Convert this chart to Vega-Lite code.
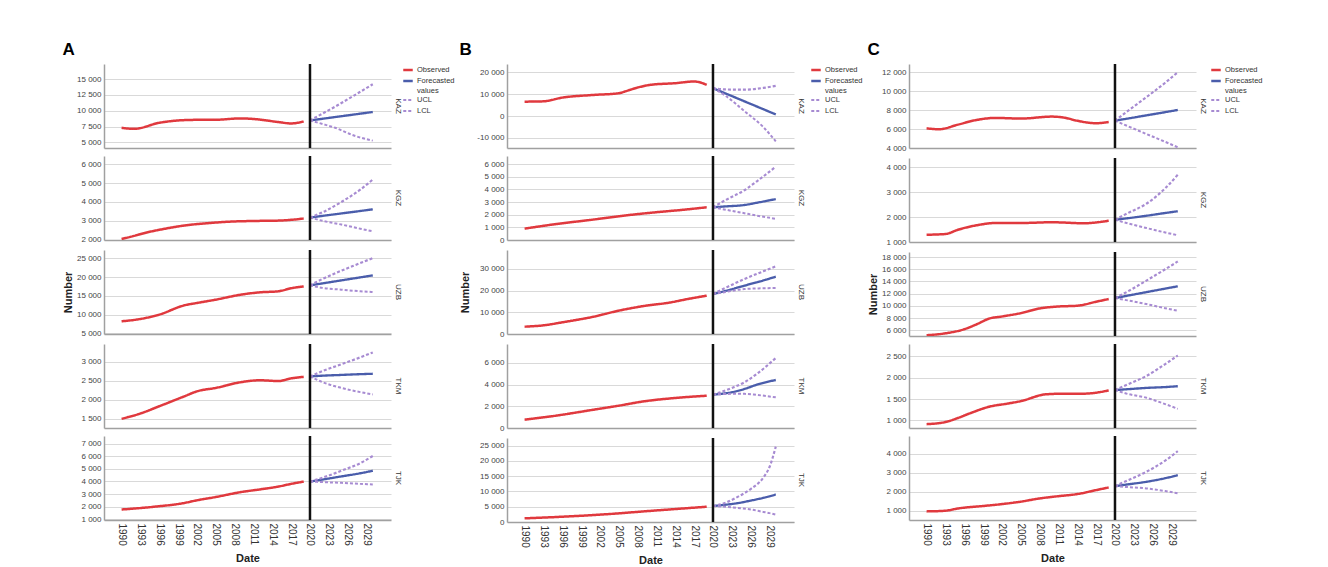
{
"$schema": "https://vega.github.io/schema/vega-lite/v6.json",
"padding": {"left": 62, "top": 40, "right": 5, "bottom": 0},
"background": "white",
"data": {"values": [
{"p":"A","c":"KAZ","t":1990,"Observed":7290},{"p":"A","c":"KAZ","t":1992,"Observed":7130},{"p":"A","c":"KAZ","t":1996,"Observed":8090},{"p":"A","c":"KAZ","t":1999,"Observed":8460},{"p":"A","c":"KAZ","t":2002,"Observed":8560},{"p":"A","c":"KAZ","t":2005,"Observed":8570},{"p":"A","c":"KAZ","t":2009,"Observed":8790},{"p":"A","c":"KAZ","t":2012,"Observed":8600},{"p":"A","c":"KAZ","t":2015,"Observed":8200},{"p":"A","c":"KAZ","t":2017,"Observed":7990},{"p":"A","c":"KAZ","t":2019,"Observed":8300},
{"p":"A","c":"KAZ","t":2020,"Forecasted values":8460,"UCL":8460,"LCL":8460},{"p":"A","c":"KAZ","t":2022,"Forecasted values":8730,"UCL":9550,"LCL":7900},{"p":"A","c":"KAZ","t":2024,"Forecasted values":9000,"UCL":10650,"LCL":7300},{"p":"A","c":"KAZ","t":2027,"Forecasted values":9400,"UCL":12400,"LCL":6070},{"p":"A","c":"KAZ","t":2030,"Forecasted values":9800,"UCL":14200,"LCL":5270},
{"p":"A","c":"KGZ","t":1990,"Observed":2030},{"p":"A","c":"KGZ","t":1992,"Observed":2200},{"p":"A","c":"KGZ","t":1994,"Observed":2380},{"p":"A","c":"KGZ","t":1996,"Observed":2520},{"p":"A","c":"KGZ","t":1999,"Observed":2700},{"p":"A","c":"KGZ","t":2001,"Observed":2790},{"p":"A","c":"KGZ","t":2004,"Observed":2880},{"p":"A","c":"KGZ","t":2007,"Observed":2950},{"p":"A","c":"KGZ","t":2011,"Observed":2990},{"p":"A","c":"KGZ","t":2015,"Observed":3010},{"p":"A","c":"KGZ","t":2017,"Observed":3050},{"p":"A","c":"KGZ","t":2019,"Observed":3120},
{"p":"A","c":"KGZ","t":2020,"Forecasted values":3170,"UCL":3170,"LCL":3170},{"p":"A","c":"KGZ","t":2022,"Forecasted values":3260,"UCL":3450,"LCL":3000},{"p":"A","c":"KGZ","t":2025,"Forecasted values":3390,"UCL":4000,"LCL":2800},{"p":"A","c":"KGZ","t":2028,"Forecasted values":3520,"UCL":4650,"LCL":2580},{"p":"A","c":"KGZ","t":2030,"Forecasted values":3610,"UCL":5190,"LCL":2440},
{"p":"A","c":"UZB","t":1990,"Observed":8190},{"p":"A","c":"UZB","t":1993,"Observed":8810},{"p":"A","c":"UZB","t":1996,"Observed":9970},{"p":"A","c":"UZB","t":2000,"Observed":12450},{"p":"A","c":"UZB","t":2002,"Observed":13070},{"p":"A","c":"UZB","t":2005,"Observed":13960},{"p":"A","c":"UZB","t":2009,"Observed":15290},{"p":"A","c":"UZB","t":2012,"Observed":15910},{"p":"A","c":"UZB","t":2015,"Observed":16200},{"p":"A","c":"UZB","t":2017,"Observed":17000},{"p":"A","c":"UZB","t":2019,"Observed":17500},
{"p":"A","c":"UZB","t":2020,"Forecasted values":17770,"UCL":17770,"LCL":17770},{"p":"A","c":"UZB","t":2022,"Forecasted values":18300,"UCL":19500,"LCL":17100},{"p":"A","c":"UZB","t":2025,"Forecasted values":19100,"UCL":21680,"LCL":16620},{"p":"A","c":"UZB","t":2028,"Forecasted values":19900,"UCL":23700,"LCL":16200},{"p":"A","c":"UZB","t":2030,"Forecasted values":20430,"UCL":25050,"LCL":16000},
{"p":"A","c":"TKM","t":1990,"Observed":1500},{"p":"A","c":"TKM","t":1993,"Observed":1640},{"p":"A","c":"TKM","t":1996,"Observed":1830},{"p":"A","c":"TKM","t":2000,"Observed":2090},{"p":"A","c":"TKM","t":2002,"Observed":2220},{"p":"A","c":"TKM","t":2005,"Observed":2310},{"p":"A","c":"TKM","t":2009,"Observed":2460},{"p":"A","c":"TKM","t":2012,"Observed":2510},{"p":"A","c":"TKM","t":2015,"Observed":2490},{"p":"A","c":"TKM","t":2017,"Observed":2560},{"p":"A","c":"TKM","t":2019,"Observed":2600},
{"p":"A","c":"TKM","t":2020,"Forecasted values":2610,"UCL":2610,"LCL":2610},{"p":"A","c":"TKM","t":2022,"Forecasted values":2630,"UCL":2750,"LCL":2460},{"p":"A","c":"TKM","t":2025,"Forecasted values":2650,"UCL":2930,"LCL":2310},{"p":"A","c":"TKM","t":2028,"Forecasted values":2670,"UCL":3110,"LCL":2200},{"p":"A","c":"TKM","t":2030,"Forecasted values":2680,"UCL":3240,"LCL":2140},
{"p":"A","c":"TJK","t":1990,"Observed":1780},{"p":"A","c":"TJK","t":1995,"Observed":1990},{"p":"A","c":"TJK","t":2000,"Observed":2300},{"p":"A","c":"TJK","t":2002,"Observed":2510},{"p":"A","c":"TJK","t":2005,"Observed":2770},{"p":"A","c":"TJK","t":2009,"Observed":3160},{"p":"A","c":"TJK","t":2012,"Observed":3370},{"p":"A","c":"TJK","t":2015,"Observed":3600},{"p":"A","c":"TJK","t":2017,"Observed":3810},{"p":"A","c":"TJK","t":2019,"Observed":3990},
{"p":"A","c":"TJK","t":2020,"Forecasted values":3990,"UCL":3990,"LCL":3990},{"p":"A","c":"TJK","t":2022,"Forecasted values":4150,"UCL":4300,"LCL":3950},{"p":"A","c":"TJK","t":2025,"Forecasted values":4400,"UCL":4850,"LCL":3890},{"p":"A","c":"TJK","t":2028,"Forecasted values":4650,"UCL":5450,"LCL":3810},{"p":"A","c":"TJK","t":2030,"Forecasted values":4850,"UCL":6020,"LCL":3760},
{"p":"B","c":"KAZ","t":1990,"Observed":6610},{"p":"B","c":"KAZ","t":1993,"Observed":6770},{"p":"B","c":"KAZ","t":1996,"Observed":8460},{"p":"B","c":"KAZ","t":2001,"Observed":9690},{"p":"B","c":"KAZ","t":2005,"Observed":10460},{"p":"B","c":"KAZ","t":2006,"Observed":11300},{"p":"B","c":"KAZ","t":2008,"Observed":13070},{"p":"B","c":"KAZ","t":2010,"Observed":14300},{"p":"B","c":"KAZ","t":2014,"Observed":15070},{"p":"B","c":"KAZ","t":2017,"Observed":15840},{"p":"B","c":"KAZ","t":2018,"Observed":15380},{"p":"B","c":"KAZ","t":2019,"Observed":14300},
{"p":"B","c":"KAZ","t":2020,"Forecasted values":12770,"UCL":12770,"LCL":12770},{"p":"B","c":"KAZ","t":2022,"Forecasted values":10370,"UCL":12200,"LCL":9300},{"p":"B","c":"KAZ","t":2025,"Forecasted values":6770,"UCL":12100,"LCL":2300},{"p":"B","c":"KAZ","t":2028,"Forecasted values":3170,"UCL":12900,"LCL":-5000},{"p":"B","c":"KAZ","t":2030,"Forecasted values":770,"UCL":13840,"LCL":-11540},
{"p":"B","c":"KGZ","t":1990,"Observed":900},{"p":"B","c":"KGZ","t":1995,"Observed":1260},{"p":"B","c":"KGZ","t":2001,"Observed":1620},{"p":"B","c":"KGZ","t":2006,"Observed":1940},{"p":"B","c":"KGZ","t":2011,"Observed":2200},{"p":"B","c":"KGZ","t":2015,"Observed":2380},{"p":"B","c":"KGZ","t":2019,"Observed":2590},
{"p":"B","c":"KGZ","t":2020,"Forecasted values":2590,"UCL":2590,"LCL":2590},{"p":"B","c":"KGZ","t":2022,"Forecasted values":2660,"UCL":3160,"LCL":2400},{"p":"B","c":"KGZ","t":2025,"Forecasted values":2770,"UCL":3940,"LCL":2120},{"p":"B","c":"KGZ","t":2027,"Forecasted values":2950,"UCL":4650,"LCL":1930},{"p":"B","c":"KGZ","t":2030,"Forecasted values":3240,"UCL":5810,"LCL":1680},
{"p":"B","c":"UZB","t":1990,"Observed":3380},{"p":"B","c":"UZB","t":1993,"Observed":4000},{"p":"B","c":"UZB","t":1996,"Observed":5380},{"p":"B","c":"UZB","t":2001,"Observed":8000},{"p":"B","c":"UZB","t":2005,"Observed":10770},{"p":"B","c":"UZB","t":2009,"Observed":12920},{"p":"B","c":"UZB","t":2013,"Observed":14460},{"p":"B","c":"UZB","t":2016,"Observed":16150},{"p":"B","c":"UZB","t":2019,"Observed":17690},
{"p":"B","c":"UZB","t":2020,"Forecasted values":18460,"UCL":18460,"LCL":18460},{"p":"B","c":"UZB","t":2022,"Forecasted values":19900,"UCL":21300,"LCL":19400},{"p":"B","c":"UZB","t":2025,"Forecasted values":22300,"UCL":25380,"LCL":20760},{"p":"B","c":"UZB","t":2028,"Forecasted values":24700,"UCL":28900,"LCL":21100},{"p":"B","c":"UZB","t":2030,"Forecasted values":26450,"UCL":31220,"LCL":21220},
{"p":"B","c":"TKM","t":1990,"Observed":770},{"p":"B","c":"TKM","t":1995,"Observed":1140},{"p":"B","c":"TKM","t":2001,"Observed":1690},{"p":"B","c":"TKM","t":2005,"Observed":2060},{"p":"B","c":"TKM","t":2009,"Observed":2460},{"p":"B","c":"TKM","t":2014,"Observed":2770},{"p":"B","c":"TKM","t":2019,"Observed":2980},
{"p":"B","c":"TKM","t":2020,"Forecasted values":3080,"UCL":3080,"LCL":3080},{"p":"B","c":"TKM","t":2023,"Forecasted values":3300,"UCL":3690,"LCL":3150},{"p":"B","c":"TKM","t":2025,"Forecasted values":3600,"UCL":4215,"LCL":3150},{"p":"B","c":"TKM","t":2027,"Forecasted values":4000,"UCL":5000,"LCL":3050},{"p":"B","c":"TKM","t":2030,"Forecasted values":4430,"UCL":6460,"LCL":2830},
{"p":"B","c":"TJK","t":1990,"Observed":1200},{"p":"B","c":"TJK","t":1995,"Observed":1630},{"p":"B","c":"TJK","t":2001,"Observed":2280},{"p":"B","c":"TJK","t":2005,"Observed":2830},{"p":"B","c":"TJK","t":2009,"Observed":3480},{"p":"B","c":"TJK","t":2014,"Observed":4240},{"p":"B","c":"TJK","t":2019,"Observed":5000},
{"p":"B","c":"TJK","t":2020,"Forecasted values":5220,"UCL":5220,"LCL":5220},{"p":"B","c":"TJK","t":2022,"Forecasted values":5650,"UCL":6300,"LCL":5000},{"p":"B","c":"TJK","t":2024,"Forecasted values":6200,"UCL":8300,"LCL":4600},{"p":"B","c":"TJK","t":2026,"Forecasted values":7000,"UCL":10800,"LCL":4100},{"p":"B","c":"TJK","t":2028,"Forecasted values":7900,"UCL":14500,"LCL":3300},{"p":"B","c":"TJK","t":2029,"Forecasted values":8400,"UCL":18000,"LCL":2900},{"p":"B","c":"TJK","t":2030,"Forecasted values":9020,"UCL":24670,"LCL":2390},
{"p":"C","c":"KAZ","t":1990,"Observed":6080},{"p":"C","c":"KAZ","t":1992,"Observed":5980},{"p":"C","c":"KAZ","t":1995,"Observed":6470},{"p":"C","c":"KAZ","t":1998,"Observed":6970},{"p":"C","c":"KAZ","t":2001,"Observed":7180},{"p":"C","c":"KAZ","t":2005,"Observed":7110},{"p":"C","c":"KAZ","t":2010,"Observed":7320},{"p":"C","c":"KAZ","t":2012,"Observed":7200},{"p":"C","c":"KAZ","t":2014,"Observed":6880},{"p":"C","c":"KAZ","t":2017,"Observed":6620},{"p":"C","c":"KAZ","t":2019,"Observed":6750},
{"p":"C","c":"KAZ","t":2020,"Forecasted values":6890,"UCL":6890,"LCL":6890},{"p":"C","c":"KAZ","t":2022,"Forecasted values":7110,"UCL":7900,"LCL":6320},{"p":"C","c":"KAZ","t":2025,"Forecasted values":7450,"UCL":9370,"LCL":5480},{"p":"C","c":"KAZ","t":2028,"Forecasted values":7790,"UCL":10900,"LCL":4650},{"p":"C","c":"KAZ","t":2030,"Forecasted values":8020,"UCL":12010,"LCL":4070},
{"p":"C","c":"KGZ","t":1990,"Observed":1290},{"p":"C","c":"KGZ","t":1993,"Observed":1320},{"p":"C","c":"KGZ","t":1995,"Observed":1490},{"p":"C","c":"KGZ","t":1998,"Observed":1670},{"p":"C","c":"KGZ","t":2001,"Observed":1760},{"p":"C","c":"KGZ","t":2005,"Observed":1760},{"p":"C","c":"KGZ","t":2010,"Observed":1790},{"p":"C","c":"KGZ","t":2015,"Observed":1750},{"p":"C","c":"KGZ","t":2019,"Observed":1850},
{"p":"C","c":"KGZ","t":2020,"Forecasted values":1890,"UCL":1890,"LCL":1890},{"p":"C","c":"KGZ","t":2022,"Forecasted values":1950,"UCL":2150,"LCL":1750},{"p":"C","c":"KGZ","t":2025,"Forecasted values":2050,"UCL":2530,"LCL":1560},{"p":"C","c":"KGZ","t":2028,"Forecasted values":2160,"UCL":3150,"LCL":1380},{"p":"C","c":"KGZ","t":2030,"Forecasted values":2230,"UCL":3690,"LCL":1270},
{"p":"C","c":"UZB","t":1990,"Observed":5180},{"p":"C","c":"UZB","t":1993,"Observed":5500},{"p":"C","c":"UZB","t":1996,"Observed":6170},{"p":"C","c":"UZB","t":1998,"Observed":6990},{"p":"C","c":"UZB","t":2000,"Observed":7930},{"p":"C","c":"UZB","t":2002,"Observed":8260},{"p":"C","c":"UZB","t":2005,"Observed":8810},{"p":"C","c":"UZB","t":2008,"Observed":9580},{"p":"C","c":"UZB","t":2011,"Observed":9900},{"p":"C","c":"UZB","t":2014,"Observed":10020},{"p":"C","c":"UZB","t":2017,"Observed":10680},{"p":"C","c":"UZB","t":2019,"Observed":11120},
{"p":"C","c":"UZB","t":2020,"Forecasted values":11280,"UCL":11280,"LCL":11280},{"p":"C","c":"UZB","t":2022,"Forecasted values":11670,"UCL":12350,"LCL":10900},{"p":"C","c":"UZB","t":2025,"Forecasted values":12250,"UCL":14140,"LCL":10290},{"p":"C","c":"UZB","t":2028,"Forecasted values":12830,"UCL":16000,"LCL":9620},{"p":"C","c":"UZB","t":2030,"Forecasted values":13210,"UCL":17280,"LCL":9190},
{"p":"C","c":"TKM","t":1990,"Observed":910},{"p":"C","c":"TKM","t":1993,"Observed":960},{"p":"C","c":"TKM","t":1995,"Observed":1055},{"p":"C","c":"TKM","t":1997,"Observed":1170},{"p":"C","c":"TKM","t":2000,"Observed":1320},{"p":"C","c":"TKM","t":2003,"Observed":1395},{"p":"C","c":"TKM","t":2005,"Observed":1450},{"p":"C","c":"TKM","t":2009,"Observed":1610},{"p":"C","c":"TKM","t":2012,"Observed":1625},{"p":"C","c":"TKM","t":2015,"Observed":1625},{"p":"C","c":"TKM","t":2019,"Observed":1700},
{"p":"C","c":"TKM","t":2020,"Forecasted values":1710,"UCL":1710,"LCL":1710},{"p":"C","c":"TKM","t":2022,"Forecasted values":1730,"UCL":1840,"LCL":1620},{"p":"C","c":"TKM","t":2025,"Forecasted values":1760,"UCL":2040,"LCL":1530},{"p":"C","c":"TKM","t":2028,"Forecasted values":1780,"UCL":2320,"LCL":1380},{"p":"C","c":"TKM","t":2030,"Forecasted values":1800,"UCL":2520,"LCL":1270},
{"p":"C","c":"TJK","t":1990,"Observed":965},{"p":"C","c":"TJK","t":1993,"Observed":1000},{"p":"C","c":"TJK","t":1995,"Observed":1120},{"p":"C","c":"TJK","t":1999,"Observed":1250},{"p":"C","c":"TJK","t":2002,"Observed":1350},{"p":"C","c":"TJK","t":2005,"Observed":1480},{"p":"C","c":"TJK","t":2008,"Observed":1650},{"p":"C","c":"TJK","t":2011,"Observed":1770},{"p":"C","c":"TJK","t":2014,"Observed":1880},{"p":"C","c":"TJK","t":2017,"Observed":2090},{"p":"C","c":"TJK","t":2019,"Observed":2230},
{"p":"C","c":"TJK","t":2020,"Forecasted values":2300,"UCL":2300,"LCL":2300},{"p":"C","c":"TJK","t":2022,"Forecasted values":2390,"UCL":2600,"LCL":2250},{"p":"C","c":"TJK","t":2025,"Forecasted values":2530,"UCL":3060,"LCL":2180},{"p":"C","c":"TJK","t":2028,"Forecasted values":2720,"UCL":3650,"LCL":2040},{"p":"C","c":"TJK","t":2030,"Forecasted values":2880,"UCL":4150,"LCL":1920}
]},
"transform": [{"fold": ["Observed", "Forecasted values", "UCL", "LCL"], "as": ["key", "v"]}, {"filter": "isValid(datum.v)"}],
"spacing": 4,
"resolve": {"scale": {"color": "independent", "strokeDash": "independent", "strokeWidth": "independent"}, "legend": {"color": "independent", "strokeDash": "independent"}},
"hconcat": [
{"title": {"text": "A", "anchor": "start", "fontSize": 17, "fontWeight": "bold", "color": "#000", "offset": 4},
 "spacing": 4,
 "vconcat": [
  {"width": 287, "height": 84, "title": {"text": "KAZ", "orient": "right", "fontSize": 8, "fontWeight": "normal", "color": "#333", "offset": 3},
   "transform": [{"filter": "datum.p == 'A' && datum.c == 'KAZ'"}],
   "layer": [
    {"mark": {"type": "line", "interpolate": "monotone", "clip": true},
     "encoding": {
      "x": {"field": "t", "type": "quantitative", "scale": {"domain": [1987.2, 2032.9], "nice": false, "zero": false}, "axis": {"labels": false, "title": null}},
      "y": {"field": "v", "type": "quantitative", "scale": {"domain": [4100, 17400], "nice": false, "zero": false}, "axis": {"values": [5000, 7500, 10000, 12500, 15000], "title": null}},
      "color": {"field": "key", "type": "nominal", "scale": {"domain": ["Observed", "Forecasted values", "UCL", "LCL"], "range": ["#e0393e", "#4a5dab", "#a78bd2", "#a78bd2"]}, "legend": {"title": null, "offset": 0, "labelExpr": "datum.label == 'Forecasted values' ? ['Forecasted', 'values'] : datum.label"}},
      "strokeDash": {"field": "key", "type": "nominal", "scale": {"domain": ["Observed", "Forecasted values", "UCL", "LCL"], "range": [[1, 0], [1, 0], [3, 2], [3, 2]]}, "legend": {"title": null, "offset": 0, "labelExpr": "datum.label == 'Forecasted values' ? ['Forecasted', 'values'] : datum.label"}},
      "strokeWidth": {"field": "key", "type": "nominal", "scale": {"domain": ["Observed", "Forecasted values", "UCL", "LCL"], "range": [2.5, 2, 1.5, 1.5]}, "legend": null}
     }},
    {"transform": [{"filter": "datum.key == 'Forecasted values' && datum.t == 2020"}], "mark": {"type": "rule", "color": "#111", "strokeWidth": 2.5}, "encoding": {"x": {"field": "t", "type": "quantitative"}}}
   ]},
  {"width": 287, "height": 84, "title": {"text": "KGZ", "orient": "right", "fontSize": 8, "fontWeight": "normal", "color": "#333", "offset": 3},
   "transform": [{"filter": "datum.p == 'A' && datum.c == 'KGZ'"}],
   "layer": [
    {"mark": {"type": "line", "interpolate": "monotone", "clip": true},
     "encoding": {
      "x": {"field": "t", "type": "quantitative", "scale": {"domain": [1987.2, 2032.9], "nice": false, "zero": false}, "axis": {"labels": false, "title": null}},
      "y": {"field": "v", "type": "quantitative", "scale": {"domain": [1980, 6440], "nice": false, "zero": false}, "axis": {"values": [2000, 3000, 4000, 5000, 6000], "title": null}},
      "color": {"field": "key", "type": "nominal", "scale": {"domain": ["Observed", "Forecasted values", "UCL", "LCL"], "range": ["#e0393e", "#4a5dab", "#a78bd2", "#a78bd2"]}, "legend": {"title": null, "offset": 0, "labelExpr": "datum.label == 'Forecasted values' ? ['Forecasted', 'values'] : datum.label"}},
      "strokeDash": {"field": "key", "type": "nominal", "scale": {"domain": ["Observed", "Forecasted values", "UCL", "LCL"], "range": [[1, 0], [1, 0], [3, 2], [3, 2]]}, "legend": {"title": null, "offset": 0, "labelExpr": "datum.label == 'Forecasted values' ? ['Forecasted', 'values'] : datum.label"}},
      "strokeWidth": {"field": "key", "type": "nominal", "scale": {"domain": ["Observed", "Forecasted values", "UCL", "LCL"], "range": [2.5, 2, 1.5, 1.5]}, "legend": null}
     }},
    {"transform": [{"filter": "datum.key == 'Forecasted values' && datum.t == 2020"}], "mark": {"type": "rule", "color": "#111", "strokeWidth": 2.5}, "encoding": {"x": {"field": "t", "type": "quantitative"}}}
   ]},
  {"width": 287, "height": 84, "title": {"text": "UZB", "orient": "right", "fontSize": 8, "fontWeight": "normal", "color": "#333", "offset": 3},
   "transform": [{"filter": "datum.p == 'A' && datum.c == 'UZB'"}],
   "layer": [
    {"mark": {"type": "line", "interpolate": "monotone", "clip": true},
     "encoding": {
      "x": {"field": "t", "type": "quantitative", "scale": {"domain": [1987.2, 2032.9], "nice": false, "zero": false}, "axis": {"labels": false, "title": null}},
      "y": {"field": "v", "type": "quantitative", "scale": {"domain": [4800, 27200], "nice": false, "zero": false}, "axis": {"values": [5000, 10000, 15000, 20000, 25000], "title": "Number"}},
      "color": {"field": "key", "type": "nominal", "scale": {"domain": ["Observed", "Forecasted values", "UCL", "LCL"], "range": ["#e0393e", "#4a5dab", "#a78bd2", "#a78bd2"]}, "legend": {"title": null, "offset": 0, "labelExpr": "datum.label == 'Forecasted values' ? ['Forecasted', 'values'] : datum.label"}},
      "strokeDash": {"field": "key", "type": "nominal", "scale": {"domain": ["Observed", "Forecasted values", "UCL", "LCL"], "range": [[1, 0], [1, 0], [3, 2], [3, 2]]}, "legend": {"title": null, "offset": 0, "labelExpr": "datum.label == 'Forecasted values' ? ['Forecasted', 'values'] : datum.label"}},
      "strokeWidth": {"field": "key", "type": "nominal", "scale": {"domain": ["Observed", "Forecasted values", "UCL", "LCL"], "range": [2.5, 2, 1.5, 1.5]}, "legend": null}
     }},
    {"transform": [{"filter": "datum.key == 'Forecasted values' && datum.t == 2020"}], "mark": {"type": "rule", "color": "#111", "strokeWidth": 2.5}, "encoding": {"x": {"field": "t", "type": "quantitative"}}}
   ]},
  {"width": 287, "height": 84, "title": {"text": "TKM", "orient": "right", "fontSize": 8, "fontWeight": "normal", "color": "#333", "offset": 3},
   "transform": [{"filter": "datum.p == 'A' && datum.c == 'TKM'"}],
   "layer": [
    {"mark": {"type": "line", "interpolate": "monotone", "clip": true},
     "encoding": {
      "x": {"field": "t", "type": "quantitative", "scale": {"domain": [1987.2, 2032.9], "nice": false, "zero": false}, "axis": {"labels": false, "title": null}},
      "y": {"field": "v", "type": "quantitative", "scale": {"domain": [1260, 3460], "nice": false, "zero": false}, "axis": {"values": [1500, 2000, 2500, 3000], "title": null}},
      "color": {"field": "key", "type": "nominal", "scale": {"domain": ["Observed", "Forecasted values", "UCL", "LCL"], "range": ["#e0393e", "#4a5dab", "#a78bd2", "#a78bd2"]}, "legend": {"title": null, "offset": 0, "labelExpr": "datum.label == 'Forecasted values' ? ['Forecasted', 'values'] : datum.label"}},
      "strokeDash": {"field": "key", "type": "nominal", "scale": {"domain": ["Observed", "Forecasted values", "UCL", "LCL"], "range": [[1, 0], [1, 0], [3, 2], [3, 2]]}, "legend": {"title": null, "offset": 0, "labelExpr": "datum.label == 'Forecasted values' ? ['Forecasted', 'values'] : datum.label"}},
      "strokeWidth": {"field": "key", "type": "nominal", "scale": {"domain": ["Observed", "Forecasted values", "UCL", "LCL"], "range": [2.5, 2, 1.5, 1.5]}, "legend": null}
     }},
    {"transform": [{"filter": "datum.key == 'Forecasted values' && datum.t == 2020"}], "mark": {"type": "rule", "color": "#111", "strokeWidth": 2.5}, "encoding": {"x": {"field": "t", "type": "quantitative"}}}
   ]},
  {"width": 287, "height": 84, "title": {"text": "TJK", "orient": "right", "fontSize": 8, "fontWeight": "normal", "color": "#333", "offset": 3},
   "transform": [{"filter": "datum.p == 'A' && datum.c == 'TJK'"}],
   "layer": [
    {"mark": {"type": "line", "interpolate": "monotone", "clip": true},
     "encoding": {
      "x": {"field": "t", "type": "quantitative", "scale": {"domain": [1987.2, 2032.9], "nice": false, "zero": false}, "axis": {"values": [1990, 1993, 1996, 1999, 2002, 2005, 2008, 2011, 2014, 2017, 2020, 2023, 2026, 2029], "labelOverlap": false, "labelBound": false, "title": "Date", "titlePadding": 7}},
      "y": {"field": "v", "type": "quantitative", "scale": {"domain": [950, 7600], "nice": false, "zero": false}, "axis": {"values": [1000, 2000, 3000, 4000, 5000, 6000, 7000], "title": null}},
      "color": {"field": "key", "type": "nominal", "scale": {"domain": ["Observed", "Forecasted values", "UCL", "LCL"], "range": ["#e0393e", "#4a5dab", "#a78bd2", "#a78bd2"]}, "legend": {"title": null, "offset": 0, "labelExpr": "datum.label == 'Forecasted values' ? ['Forecasted', 'values'] : datum.label"}},
      "strokeDash": {"field": "key", "type": "nominal", "scale": {"domain": ["Observed", "Forecasted values", "UCL", "LCL"], "range": [[1, 0], [1, 0], [3, 2], [3, 2]]}, "legend": {"title": null, "offset": 0, "labelExpr": "datum.label == 'Forecasted values' ? ['Forecasted', 'values'] : datum.label"}},
      "strokeWidth": {"field": "key", "type": "nominal", "scale": {"domain": ["Observed", "Forecasted values", "UCL", "LCL"], "range": [2.5, 2, 1.5, 1.5]}, "legend": null}
     }},
    {"transform": [{"filter": "datum.key == 'Forecasted values' && datum.t == 2020"}], "mark": {"type": "rule", "color": "#111", "strokeWidth": 2.5}, "encoding": {"x": {"field": "t", "type": "quantitative", "axis": {"values": [1990, 1993, 1996, 1999, 2002, 2005, 2008, 2011, 2014, 2017, 2020, 2023, 2026, 2029], "labelOverlap": false, "labelBound": false, "title": "Date", "titlePadding": 7}}}}
   ]}
 ]},
{"title": {"text": "B", "anchor": "start", "fontSize": 17, "fontWeight": "bold", "color": "#000", "offset": 4},
 "spacing": 4,
 "vconcat": [
  {"width": 287, "height": 84, "title": {"text": "KAZ", "orient": "right", "fontSize": 8, "fontWeight": "normal", "color": "#333", "offset": 3},
   "transform": [{"filter": "datum.p == 'B' && datum.c == 'KAZ'"}],
   "layer": [
    {"mark": {"type": "line", "interpolate": "monotone", "clip": true},
     "encoding": {
      "x": {"field": "t", "type": "quantitative", "scale": {"domain": [1987.2, 2032.9], "nice": false, "zero": false}, "axis": {"labels": false, "title": null}},
      "y": {"field": "v", "type": "quantitative", "scale": {"domain": [-14600, 23850], "nice": false, "zero": false}, "axis": {"values": [-10000, 0, 10000, 20000], "title": null}},
      "color": {"field": "key", "type": "nominal", "scale": {"domain": ["Observed", "Forecasted values", "UCL", "LCL"], "range": ["#e0393e", "#4a5dab", "#a78bd2", "#a78bd2"]}, "legend": {"title": null, "offset": 5, "labelExpr": "datum.label == 'Forecasted values' ? ['Forecasted', 'values'] : datum.label"}},
      "strokeDash": {"field": "key", "type": "nominal", "scale": {"domain": ["Observed", "Forecasted values", "UCL", "LCL"], "range": [[1, 0], [1, 0], [3, 2], [3, 2]]}, "legend": {"title": null, "offset": 5, "labelExpr": "datum.label == 'Forecasted values' ? ['Forecasted', 'values'] : datum.label"}},
      "strokeWidth": {"field": "key", "type": "nominal", "scale": {"domain": ["Observed", "Forecasted values", "UCL", "LCL"], "range": [2.5, 2, 1.5, 1.5]}, "legend": null}
     }},
    {"transform": [{"filter": "datum.key == 'Forecasted values' && datum.t == 2020"}], "mark": {"type": "rule", "color": "#111", "strokeWidth": 2.5}, "encoding": {"x": {"field": "t", "type": "quantitative"}}}
   ]},
  {"width": 287, "height": 84, "title": {"text": "KGZ", "orient": "right", "fontSize": 8, "fontWeight": "normal", "color": "#333", "offset": 3},
   "transform": [{"filter": "datum.p == 'B' && datum.c == 'KGZ'"}],
   "layer": [
    {"mark": {"type": "line", "interpolate": "monotone", "clip": true},
     "encoding": {
      "x": {"field": "t", "type": "quantitative", "scale": {"domain": [1987.2, 2032.9], "nice": false, "zero": false}, "axis": {"labels": false, "title": null}},
      "y": {"field": "v", "type": "quantitative", "scale": {"domain": [0, 6650], "nice": false, "zero": false}, "axis": {"values": [0, 1000, 2000, 3000, 4000, 5000, 6000], "title": null}},
      "color": {"field": "key", "type": "nominal", "scale": {"domain": ["Observed", "Forecasted values", "UCL", "LCL"], "range": ["#e0393e", "#4a5dab", "#a78bd2", "#a78bd2"]}, "legend": {"title": null, "offset": 5, "labelExpr": "datum.label == 'Forecasted values' ? ['Forecasted', 'values'] : datum.label"}},
      "strokeDash": {"field": "key", "type": "nominal", "scale": {"domain": ["Observed", "Forecasted values", "UCL", "LCL"], "range": [[1, 0], [1, 0], [3, 2], [3, 2]]}, "legend": {"title": null, "offset": 5, "labelExpr": "datum.label == 'Forecasted values' ? ['Forecasted', 'values'] : datum.label"}},
      "strokeWidth": {"field": "key", "type": "nominal", "scale": {"domain": ["Observed", "Forecasted values", "UCL", "LCL"], "range": [2.5, 2, 1.5, 1.5]}, "legend": null}
     }},
    {"transform": [{"filter": "datum.key == 'Forecasted values' && datum.t == 2020"}], "mark": {"type": "rule", "color": "#111", "strokeWidth": 2.5}, "encoding": {"x": {"field": "t", "type": "quantitative"}}}
   ]},
  {"width": 287, "height": 84, "title": {"text": "UZB", "orient": "right", "fontSize": 8, "fontWeight": "normal", "color": "#333", "offset": 3},
   "transform": [{"filter": "datum.p == 'B' && datum.c == 'UZB'"}],
   "layer": [
    {"mark": {"type": "line", "interpolate": "monotone", "clip": true},
     "encoding": {
      "x": {"field": "t", "type": "quantitative", "scale": {"domain": [1987.2, 2032.9], "nice": false, "zero": false}, "axis": {"labels": false, "title": null}},
      "y": {"field": "v", "type": "quantitative", "scale": {"domain": [0, 38760], "nice": false, "zero": false}, "axis": {"values": [0, 10000, 20000, 30000], "title": "Number", "titlePadding": 9}},
      "color": {"field": "key", "type": "nominal", "scale": {"domain": ["Observed", "Forecasted values", "UCL", "LCL"], "range": ["#e0393e", "#4a5dab", "#a78bd2", "#a78bd2"]}, "legend": {"title": null, "offset": 5, "labelExpr": "datum.label == 'Forecasted values' ? ['Forecasted', 'values'] : datum.label"}},
      "strokeDash": {"field": "key", "type": "nominal", "scale": {"domain": ["Observed", "Forecasted values", "UCL", "LCL"], "range": [[1, 0], [1, 0], [3, 2], [3, 2]]}, "legend": {"title": null, "offset": 5, "labelExpr": "datum.label == 'Forecasted values' ? ['Forecasted', 'values'] : datum.label"}},
      "strokeWidth": {"field": "key", "type": "nominal", "scale": {"domain": ["Observed", "Forecasted values", "UCL", "LCL"], "range": [2.5, 2, 1.5, 1.5]}, "legend": null}
     }},
    {"transform": [{"filter": "datum.key == 'Forecasted values' && datum.t == 2020"}], "mark": {"type": "rule", "color": "#111", "strokeWidth": 2.5}, "encoding": {"x": {"field": "t", "type": "quantitative"}}}
   ]},
  {"width": 287, "height": 84, "title": {"text": "TKM", "orient": "right", "fontSize": 8, "fontWeight": "normal", "color": "#333", "offset": 3},
   "transform": [{"filter": "datum.p == 'B' && datum.c == 'TKM'"}],
   "layer": [
    {"mark": {"type": "line", "interpolate": "monotone", "clip": true},
     "encoding": {
      "x": {"field": "t", "type": "quantitative", "scale": {"domain": [1987.2, 2032.9], "nice": false, "zero": false}, "axis": {"labels": false, "title": null}},
      "y": {"field": "v", "type": "quantitative", "scale": {"domain": [0, 7750], "nice": false, "zero": false}, "axis": {"values": [0, 2000, 4000, 6000], "title": null}},
      "color": {"field": "key", "type": "nominal", "scale": {"domain": ["Observed", "Forecasted values", "UCL", "LCL"], "range": ["#e0393e", "#4a5dab", "#a78bd2", "#a78bd2"]}, "legend": {"title": null, "offset": 5, "labelExpr": "datum.label == 'Forecasted values' ? ['Forecasted', 'values'] : datum.label"}},
      "strokeDash": {"field": "key", "type": "nominal", "scale": {"domain": ["Observed", "Forecasted values", "UCL", "LCL"], "range": [[1, 0], [1, 0], [3, 2], [3, 2]]}, "legend": {"title": null, "offset": 5, "labelExpr": "datum.label == 'Forecasted values' ? ['Forecasted', 'values'] : datum.label"}},
      "strokeWidth": {"field": "key", "type": "nominal", "scale": {"domain": ["Observed", "Forecasted values", "UCL", "LCL"], "range": [2.5, 2, 1.5, 1.5]}, "legend": null}
     }},
    {"transform": [{"filter": "datum.key == 'Forecasted values' && datum.t == 2020"}], "mark": {"type": "rule", "color": "#111", "strokeWidth": 2.5}, "encoding": {"x": {"field": "t", "type": "quantitative"}}}
   ]},
  {"width": 287, "height": 84, "title": {"text": "TJK", "orient": "right", "fontSize": 8, "fontWeight": "normal", "color": "#333", "offset": 3},
   "transform": [{"filter": "datum.p == 'B' && datum.c == 'TJK'"}],
   "layer": [
    {"mark": {"type": "line", "interpolate": "monotone", "clip": true},
     "encoding": {
      "x": {"field": "t", "type": "quantitative", "scale": {"domain": [1987.2, 2032.9], "nice": false, "zero": false}, "axis": {"values": [1990, 1993, 1996, 1999, 2002, 2005, 2008, 2011, 2014, 2017, 2020, 2023, 2026, 2029], "labelOverlap": false, "labelBound": false, "title": "Date", "titlePadding": 7}},
      "y": {"field": "v", "type": "quantitative", "scale": {"domain": [0, 27500], "nice": false, "zero": false}, "axis": {"values": [0, 5000, 10000, 15000, 20000, 25000], "title": null}},
      "color": {"field": "key", "type": "nominal", "scale": {"domain": ["Observed", "Forecasted values", "UCL", "LCL"], "range": ["#e0393e", "#4a5dab", "#a78bd2", "#a78bd2"]}, "legend": {"title": null, "offset": 5, "labelExpr": "datum.label == 'Forecasted values' ? ['Forecasted', 'values'] : datum.label"}},
      "strokeDash": {"field": "key", "type": "nominal", "scale": {"domain": ["Observed", "Forecasted values", "UCL", "LCL"], "range": [[1, 0], [1, 0], [3, 2], [3, 2]]}, "legend": {"title": null, "offset": 5, "labelExpr": "datum.label == 'Forecasted values' ? ['Forecasted', 'values'] : datum.label"}},
      "strokeWidth": {"field": "key", "type": "nominal", "scale": {"domain": ["Observed", "Forecasted values", "UCL", "LCL"], "range": [2.5, 2, 1.5, 1.5]}, "legend": null}
     }},
    {"transform": [{"filter": "datum.key == 'Forecasted values' && datum.t == 2020"}], "mark": {"type": "rule", "color": "#111", "strokeWidth": 2.5}, "encoding": {"x": {"field": "t", "type": "quantitative", "axis": {"values": [1990, 1993, 1996, 1999, 2002, 2005, 2008, 2011, 2014, 2017, 2020, 2023, 2026, 2029], "labelOverlap": false, "labelBound": false, "title": "Date", "titlePadding": 7}}}}
   ]}
 ]},
{"title": {"text": "C", "anchor": "start", "fontSize": 17, "fontWeight": "bold", "color": "#000", "offset": 4},
 "spacing": 4,
 "vconcat": [
  {"width": 287, "height": 84, "title": {"text": "KAZ", "orient": "right", "fontSize": 8, "fontWeight": "normal", "color": "#333", "offset": 3},
   "transform": [{"filter": "datum.p == 'C' && datum.c == 'KAZ'"}],
   "layer": [
    {"mark": {"type": "line", "interpolate": "monotone", "clip": true},
     "encoding": {
      "x": {"field": "t", "type": "quantitative", "scale": {"domain": [1987.2, 2032.9], "nice": false, "zero": false}, "axis": {"labels": false, "title": null}},
      "y": {"field": "v", "type": "quantitative", "scale": {"domain": [4000, 12880], "nice": false, "zero": false}, "axis": {"values": [4000, 6000, 8000, 10000, 12000], "title": null}},
      "color": {"field": "key", "type": "nominal", "scale": {"domain": ["Observed", "Forecasted values", "UCL", "LCL"], "range": ["#e0393e", "#4a5dab", "#a78bd2", "#a78bd2"]}, "legend": {"title": null, "offset": 3, "labelExpr": "datum.label == 'Forecasted values' ? ['Forecasted', 'values'] : datum.label"}},
      "strokeDash": {"field": "key", "type": "nominal", "scale": {"domain": ["Observed", "Forecasted values", "UCL", "LCL"], "range": [[1, 0], [1, 0], [3, 2], [3, 2]]}, "legend": {"title": null, "offset": 3, "labelExpr": "datum.label == 'Forecasted values' ? ['Forecasted', 'values'] : datum.label"}},
      "strokeWidth": {"field": "key", "type": "nominal", "scale": {"domain": ["Observed", "Forecasted values", "UCL", "LCL"], "range": [2.5, 2, 1.5, 1.5]}, "legend": null}
     }},
    {"transform": [{"filter": "datum.key == 'Forecasted values' && datum.t == 2020"}], "mark": {"type": "rule", "color": "#111", "strokeWidth": 2.5}, "encoding": {"x": {"field": "t", "type": "quantitative"}}}
   ]},
  {"width": 287, "height": 84, "title": {"text": "KGZ", "orient": "right", "fontSize": 8, "fontWeight": "normal", "color": "#333", "offset": 3},
   "transform": [{"filter": "datum.p == 'C' && datum.c == 'KGZ'"}],
   "layer": [
    {"mark": {"type": "line", "interpolate": "monotone", "clip": true},
     "encoding": {
      "x": {"field": "t", "type": "quantitative", "scale": {"domain": [1987.2, 2032.9], "nice": false, "zero": false}, "axis": {"labels": false, "title": null}},
      "y": {"field": "v", "type": "quantitative", "scale": {"domain": [1000, 4360], "nice": false, "zero": false}, "axis": {"values": [1000, 2000, 3000, 4000], "title": null}},
      "color": {"field": "key", "type": "nominal", "scale": {"domain": ["Observed", "Forecasted values", "UCL", "LCL"], "range": ["#e0393e", "#4a5dab", "#a78bd2", "#a78bd2"]}, "legend": {"title": null, "offset": 3, "labelExpr": "datum.label == 'Forecasted values' ? ['Forecasted', 'values'] : datum.label"}},
      "strokeDash": {"field": "key", "type": "nominal", "scale": {"domain": ["Observed", "Forecasted values", "UCL", "LCL"], "range": [[1, 0], [1, 0], [3, 2], [3, 2]]}, "legend": {"title": null, "offset": 3, "labelExpr": "datum.label == 'Forecasted values' ? ['Forecasted', 'values'] : datum.label"}},
      "strokeWidth": {"field": "key", "type": "nominal", "scale": {"domain": ["Observed", "Forecasted values", "UCL", "LCL"], "range": [2.5, 2, 1.5, 1.5]}, "legend": null}
     }},
    {"transform": [{"filter": "datum.key == 'Forecasted values' && datum.t == 2020"}], "mark": {"type": "rule", "color": "#111", "strokeWidth": 2.5}, "encoding": {"x": {"field": "t", "type": "quantitative"}}}
   ]},
  {"width": 287, "height": 84, "title": {"text": "UZB", "orient": "right", "fontSize": 8, "fontWeight": "normal", "color": "#333", "offset": 3},
   "transform": [{"filter": "datum.p == 'C' && datum.c == 'UZB'"}],
   "layer": [
    {"mark": {"type": "line", "interpolate": "monotone", "clip": true},
     "encoding": {
      "x": {"field": "t", "type": "quantitative", "scale": {"domain": [1987.2, 2032.9], "nice": false, "zero": false}, "axis": {"labels": false, "title": null}},
      "y": {"field": "v", "type": "quantitative", "scale": {"domain": [5060, 18830], "nice": false, "zero": false}, "axis": {"values": [6000, 8000, 10000, 12000, 14000, 16000, 18000], "title": "Number"}},
      "color": {"field": "key", "type": "nominal", "scale": {"domain": ["Observed", "Forecasted values", "UCL", "LCL"], "range": ["#e0393e", "#4a5dab", "#a78bd2", "#a78bd2"]}, "legend": {"title": null, "offset": 3, "labelExpr": "datum.label == 'Forecasted values' ? ['Forecasted', 'values'] : datum.label"}},
      "strokeDash": {"field": "key", "type": "nominal", "scale": {"domain": ["Observed", "Forecasted values", "UCL", "LCL"], "range": [[1, 0], [1, 0], [3, 2], [3, 2]]}, "legend": {"title": null, "offset": 3, "labelExpr": "datum.label == 'Forecasted values' ? ['Forecasted', 'values'] : datum.label"}},
      "strokeWidth": {"field": "key", "type": "nominal", "scale": {"domain": ["Observed", "Forecasted values", "UCL", "LCL"], "range": [2.5, 2, 1.5, 1.5]}, "legend": null}
     }},
    {"transform": [{"filter": "datum.key == 'Forecasted values' && datum.t == 2020"}], "mark": {"type": "rule", "color": "#111", "strokeWidth": 2.5}, "encoding": {"x": {"field": "t", "type": "quantitative"}}}
   ]},
  {"width": 287, "height": 84, "title": {"text": "TKM", "orient": "right", "fontSize": 8, "fontWeight": "normal", "color": "#333", "offset": 3},
   "transform": [{"filter": "datum.p == 'C' && datum.c == 'TKM'"}],
   "layer": [
    {"mark": {"type": "line", "interpolate": "monotone", "clip": true},
     "encoding": {
      "x": {"field": "t", "type": "quantitative", "scale": {"domain": [1987.2, 2032.9], "nice": false, "zero": false}, "axis": {"labels": false, "title": null}},
      "y": {"field": "v", "type": "quantitative", "scale": {"domain": [820, 2790], "nice": false, "zero": false}, "axis": {"values": [1000, 1500, 2000, 2500], "title": null}},
      "color": {"field": "key", "type": "nominal", "scale": {"domain": ["Observed", "Forecasted values", "UCL", "LCL"], "range": ["#e0393e", "#4a5dab", "#a78bd2", "#a78bd2"]}, "legend": {"title": null, "offset": 3, "labelExpr": "datum.label == 'Forecasted values' ? ['Forecasted', 'values'] : datum.label"}},
      "strokeDash": {"field": "key", "type": "nominal", "scale": {"domain": ["Observed", "Forecasted values", "UCL", "LCL"], "range": [[1, 0], [1, 0], [3, 2], [3, 2]]}, "legend": {"title": null, "offset": 3, "labelExpr": "datum.label == 'Forecasted values' ? ['Forecasted', 'values'] : datum.label"}},
      "strokeWidth": {"field": "key", "type": "nominal", "scale": {"domain": ["Observed", "Forecasted values", "UCL", "LCL"], "range": [2.5, 2, 1.5, 1.5]}, "legend": null}
     }},
    {"transform": [{"filter": "datum.key == 'Forecasted values' && datum.t == 2020"}], "mark": {"type": "rule", "color": "#111", "strokeWidth": 2.5}, "encoding": {"x": {"field": "t", "type": "quantitative"}}}
   ]},
  {"width": 287, "height": 84, "title": {"text": "TJK", "orient": "right", "fontSize": 8, "fontWeight": "normal", "color": "#333", "offset": 3},
   "transform": [{"filter": "datum.p == 'C' && datum.c == 'TJK'"}],
   "layer": [
    {"mark": {"type": "line", "interpolate": "monotone", "clip": true},
     "encoding": {
      "x": {"field": "t", "type": "quantitative", "scale": {"domain": [1987.2, 2032.9], "nice": false, "zero": false}, "axis": {"values": [1990, 1993, 1996, 1999, 2002, 2005, 2008, 2011, 2014, 2017, 2020, 2023, 2026, 2029], "labelOverlap": false, "labelBound": false, "title": "Date", "titlePadding": 7}},
      "y": {"field": "v", "type": "quantitative", "scale": {"domain": [510, 4950], "nice": false, "zero": false}, "axis": {"values": [1000, 2000, 3000, 4000], "title": null}},
      "color": {"field": "key", "type": "nominal", "scale": {"domain": ["Observed", "Forecasted values", "UCL", "LCL"], "range": ["#e0393e", "#4a5dab", "#a78bd2", "#a78bd2"]}, "legend": {"title": null, "offset": 3, "labelExpr": "datum.label == 'Forecasted values' ? ['Forecasted', 'values'] : datum.label"}},
      "strokeDash": {"field": "key", "type": "nominal", "scale": {"domain": ["Observed", "Forecasted values", "UCL", "LCL"], "range": [[1, 0], [1, 0], [3, 2], [3, 2]]}, "legend": {"title": null, "offset": 3, "labelExpr": "datum.label == 'Forecasted values' ? ['Forecasted', 'values'] : datum.label"}},
      "strokeWidth": {"field": "key", "type": "nominal", "scale": {"domain": ["Observed", "Forecasted values", "UCL", "LCL"], "range": [2.5, 2, 1.5, 1.5]}, "legend": null}
     }},
    {"transform": [{"filter": "datum.key == 'Forecasted values' && datum.t == 2020"}], "mark": {"type": "rule", "color": "#111", "strokeWidth": 2.5}, "encoding": {"x": {"field": "t", "type": "quantitative", "axis": {"values": [1990, 1993, 1996, 1999, 2002, 2005, 2008, 2011, 2014, 2017, 2020, 2023, 2026, 2029], "labelOverlap": false, "labelBound": false, "title": "Date", "titlePadding": 7}}}}
   ]}
 ]}
],
"config": {
 "font": "Liberation Sans",
 "view": {"stroke": null},
 "locale": {"number": {"decimal": ".", "thousands": " ", "grouping": [3], "currency": ["", ""], "minus": "-"}},
 "axisX": {"format": "d", "grid": false, "ticks": false, "labelOverlap": false, "labelAngle": 90, "labelFontSize": 10, "labelColor": "#333", "labelPadding": 3, "domainColor": "#a0a0a0", "domainWidth": 1.5, "titleFontSize": 11, "titleFontWeight": "bold", "titleColor": "#222", "titlePadding": 4},
 "axisY": {"format": ",d", "ticks": false, "grid": true, "gridColor": "#d9d9d9", "gridWidth": 1, "labelFontSize": 8, "labelColor": "#444", "labelPadding": 3, "domainColor": "#a0a0a0", "domainWidth": 1.5, "titleFontSize": 11, "titleFontWeight": "bold", "titleColor": "#222", "titlePadding": 3},
 "legend": {"labelFontSize": 7.5, "labelColor": "#333", "symbolType": "stroke", "symbolSize": 90, "symbolStrokeWidth": 2, "rowPadding": 0, "padding": 0, "labelOffset": 3, "labelLimit": 90}
}
}
